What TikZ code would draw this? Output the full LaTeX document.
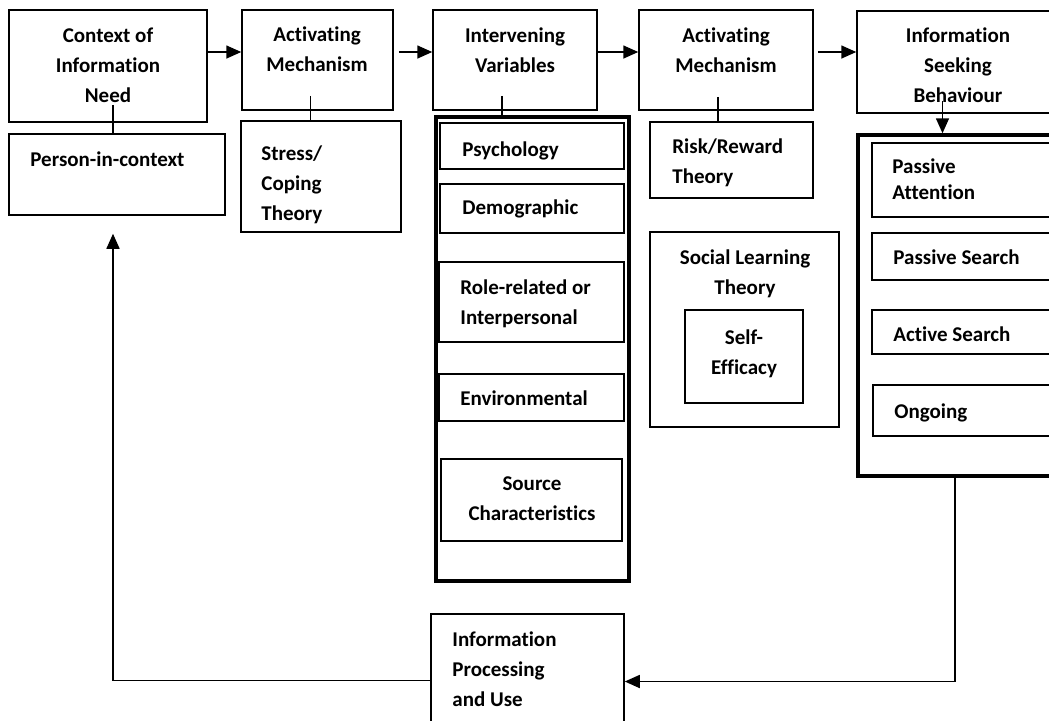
\documentclass[tikz,border=0pt]{standalone}
\usepackage{fontspec}
\setmainfont{Carlito}[Ligatures=NoCommon]
\usetikzlibrary{shapes,arrows.meta,positioning,fit,calc}

\tikzset{
  box/.style={draw, line width=0.75pt, inner sep=0pt},
  frame/.style={draw, line width=1.75pt, inner sep=0pt},
  txt/.style={inner sep=0pt, font=\fontsize{10.5}{15}\selectfont\bfseries},
  link/.style={line width=0.8pt},
  arr/.style={line width=0.8pt, -{Triangle[length=7.5pt,width=6.5pt]}}
}

\begin{document}
\begin{tikzpicture}[x=0.5pt, y=-0.5pt]
\clip (0,0) rectangle (1049,720);

% top row
\node[box, fit={(9,10) (207,122)}] (ctx) {};
\node[txt, align=center, anchor=north] (ctx-t) at (108,27) {Context of\\Information\\Need};
\node[box, fit={(242,10) (393,110)}] (am1) {};
\node[txt, align=center, anchor=north] (am1-t) at (317,26) {Activating\\Mechanism};
\node[box, fit={(433,10) (597,110)}] (iv) {};
\node[txt, align=center, anchor=north] (iv-t) at (515,27) {Intervening\\Variables};
\node[box, fit={(639,10) (813,110)}] (am2) {};
\node[txt, align=center, anchor=north] (am2-t) at (726,27) {Activating\\Mechanism};
\node[box, fit={(857,11) (1062,113)}] (isb) {};
\node[txt, align=center, anchor=north] (isb-t) at (958,27) {Information\\Seeking\\Behaviour};

% second row
\node[box, fit={(9,134) (225,215)}] (person) {};
\node[txt, anchor=north west] (person-t) at (30,151) {Person-in-context};
\node[box, fit={(241,121) (401,232)}] (stress) {};
\node[txt, align=left, anchor=north west] (stress-t) at (261,145) {Stress/\\Coping\\Theory};
\node[box, fit={(650,122) (813,198)}] (risk) {};
\node[txt, align=left, anchor=north west] (risk-t) at (672,138) {Risk/Reward\\Theory};

% intervening variables
\node[frame, fit={(436,117) (629,581)}] (col) {};
\node[box, fit={(440,123) (624,169)}] (psych) {};
\node[txt, anchor=north west] (psych-t) at (462,141) {Psychology};
\node[box, fit={(440,184) (624,233)}] (demo) {};
\node[txt, anchor=north west] (demo-t) at (462,199) {Demographic};
\node[box, fit={(439,262) (624,342)}] (role) {};
\node[txt, align=left, anchor=north west] (role-t) at (460,279) {Role-related or\\Interpersonal};
\node[box, fit={(439,374) (624,421)}] (env) {};
\node[txt, anchor=north west] (env-t) at (460,390) {Environmental};
\node[box, fit={(441,459) (622,541)}] (source) {};
\node[txt, align=center, anchor=north] (source-t) at (532,476) {Source\\Characteristics};

% social learning
\node[box, fit={(650,232) (839,427)}] (social) {};
\node[txt, align=center, anchor=north] (social-t) at (745,249) {Social Learning\\Theory};
\node[box, line width=1.1pt, fit={(685,310) (803,403)}] (self) {};
\node[txt, align=center, anchor=north] (self-t) at (744,329) {Self-\\Efficacy};

% seeking modes
\node[frame, fit={(858,135) (1060,476)}] (rbox) {};
\node[box, fit={(872,143) (1055,217)}] (patt) {};
\node[txt, align=left, anchor=north west] (patt-t) at (892,158) {Passive\\[-2pt]Attention};
\node[box, fit={(872,233) (1055,280)}] (psearch) {};
\node[txt, anchor=north west] (psearch-t) at (893,249) {Passive Search};
\node[box, fit={(872,310) (1055,354)}] (asearch) {};
\node[txt, anchor=north west] (asearch-t) at (893,326) {Active Search};
\node[box, fit={(873,385) (1055,436)}] (ongoing) {};
\node[txt, anchor=north west] (ongoing-t) at (894,403) {Ongoing};

% processing
\node[box, fit={(431,614) (624,735)}] (ip) {};
\node[txt, align=left, anchor=north west] (ip-t) at (452,631) {Information\\Processing\\and Use};

% arrows along the top
\coordinate (row) at (0,52);
\draw[arr] (ctx.east |- row) -- (am1.west |- row);
\draw[arr] ($(am1.east |- row)+(5,0)$) -- (iv.west |- row);
\draw[arr] (iv.east |- row) -- (am2.west |- row);
\draw[arr] ($(am2.east |- row)+(4,0)$) -- (isb.west |- row);

% short links down
\coordinate (ctx-b) at ($(ctx.south)+(5,-18)$);
\draw[link] (ctx-b) -- (ctx-b |- person.north);
\coordinate (am1-b) at ($(am1.south)+(-7,-15)$);
\draw[link] (am1-b) -- (am1-b |- stress.north);
\coordinate (iv-b) at ($(iv.south)+(-13,-15)$);
\draw[link] (iv-b) -- (iv-b |- col.north);
\coordinate (am2-b) at ($(am2.south)+(-8,-14)$);
\draw[link] (am2-b) -- (am2-b |- risk.north);
\coordinate (isb-b) at ($(isb.south)+(-17,-13)$);
\draw[arr] (isb-b) -- (isb-b |- rbox.north);

% feedback loop
\coordinate (out) at ($(rbox.south)+(-4,0)$);
\draw[arr] (out) |- ($(ip.east)+(0,7)$);
\coordinate (back) at ($(person.south)+(-4,18)$);
\draw[arr] ($(ip.west)+(0,6)$) -| (back);
\end{tikzpicture}
\end{document}
